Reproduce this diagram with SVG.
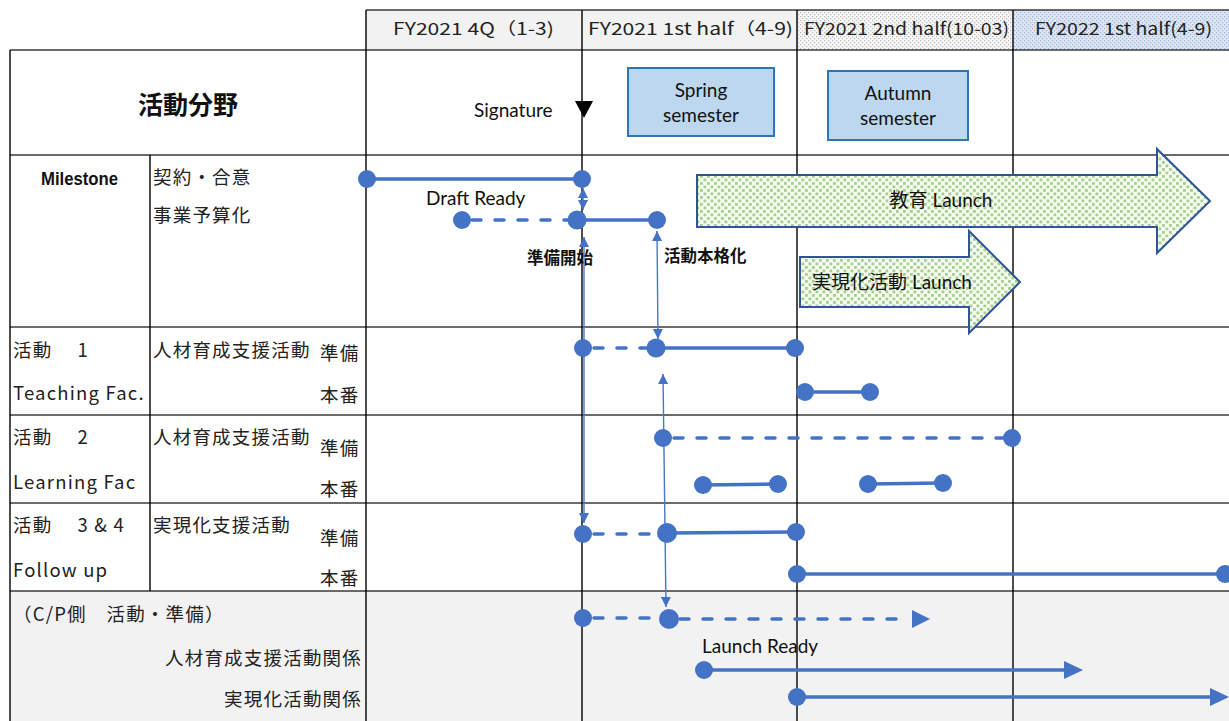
<svg xmlns="http://www.w3.org/2000/svg" width="1229" height="721" viewBox="0 0 1229 721">
  <defs>
    <style>
      .grid { stroke: #000; stroke-width: 1.4; fill: none; }
      .hline { stroke: #3a3a3a; stroke-width: 1.6; }
      .jp { font-family: "Noto Sans CJK JP", "Noto Sans", sans-serif; font-size: 18.5px; fill: #222; letter-spacing: 1.2px; }
      .lat { font-family: Lato, "Noto Sans CJK JP", "Liberation Sans", sans-serif; font-size: 19px; fill: #111; }
      .hdr { font-family: "Noto Sans CJK JP", "Liberation Sans Narrow", sans-serif; font-size: 17px; fill: #222; }
      .bold { font-family: "Noto Sans CJK JP", sans-serif; font-weight: bold; font-size: 16.5px; fill: #111; }
      .bar { stroke: #4472c4; stroke-width: 3.5; fill: none; }
      .dash { stroke: #4472c4; stroke-width: 3.5; fill: none; stroke-dasharray: 9 14; stroke-linecap: round; }
      .dot { fill: #4472c4; }
      .thin { stroke: #4a78c8; stroke-width: 1.4; fill: none; marker-start: url(#tip); marker-end: url(#tip); }
      .big { stroke: #2f5597; stroke-width: 2; fill: url(#greenDots); }
      .sem { fill: #bdd7ee; stroke: #2e75b6; stroke-width: 2; }
    </style>
    <pattern id="greenDots" width="7" height="7" patternUnits="userSpaceOnUse">
      <rect width="7" height="7" fill="#f6fbf2"/>
      <rect x="0" y="0" width="2.8" height="2.8" fill="#a6d08c"/>
      <rect x="3.5" y="3.5" width="2.8" height="2.8" fill="#a6d08c"/>
    </pattern>
    <pattern id="grayDots" width="4" height="4" patternUnits="userSpaceOnUse">
      <rect width="4" height="4" fill="#f7f7f7"/>
      <rect x="0" y="0" width="1.2" height="1.2" fill="#b8b8b8"/>
      <rect x="2" y="2" width="1.2" height="1.2" fill="#b8b8b8"/>
    </pattern>
    <pattern id="blueDots" width="4" height="4" patternUnits="userSpaceOnUse">
      <rect width="4" height="4" fill="#dde6f4"/>
      <rect x="0" y="0" width="1.2" height="1.2" fill="#9fb2d6"/>
      <rect x="2" y="2" width="1.2" height="1.2" fill="#9fb2d6"/>
    </pattern>
    <marker id="tip" viewBox="0 0 10 10" refX="10" refY="5" markerWidth="10" markerHeight="10" markerUnits="userSpaceOnUse" orient="auto-start-reverse">
      <path d="M0,0 L10,5 L0,10 Z" fill="#4472c4"/>
    </marker>
  </defs>

  <rect width="1229" height="721" fill="#fff"/>

  <!-- backgrounds -->
  <g id="backgrounds">
    <rect x="366" y="10" width="216" height="40" fill="#f2f2f2"/>
    <rect x="582" y="10" width="215" height="40" fill="#f2f2f2"/>
    <rect x="797" y="10" width="216" height="40" fill="url(#grayDots)"/>
    <rect x="1013" y="10" width="216" height="40" fill="url(#blueDots)"/>
    <rect x="10" y="591" width="1219" height="130" fill="#f2f2f2"/>
  </g>

  <!-- table grid -->
  <g id="grid">
    <line class="hline" x1="366" y1="10" x2="1229" y2="10"/>
    <line class="hline" x1="10" y1="50" x2="1229" y2="50"/>
    <line class="hline" x1="10" y1="155" x2="1229" y2="155"/>
    <line class="hline" x1="10" y1="327" x2="1229" y2="327"/>
    <line class="hline" x1="10" y1="415" x2="1229" y2="415"/>
    <line class="hline" x1="10" y1="503" x2="1229" y2="503"/>
    <line class="hline" x1="10" y1="591" x2="1229" y2="591" stroke-width="2"/>
    <line class="grid" x1="10" y1="50" x2="10" y2="721"/>
    <line class="grid" x1="150" y1="155" x2="150" y2="591"/>
    <line class="grid" x1="366" y1="10" x2="366" y2="721"/>
    <line class="grid" x1="582" y1="10" x2="582" y2="721"/>
    <line class="grid" x1="797" y1="10" x2="797" y2="721"/>
    <line class="grid" x1="1013" y1="10" x2="1013" y2="721"/>
  </g>

  <!-- period headers -->
  <g id="headers">
    <text class="hdr" x="393" y="35" textLength="161" lengthAdjust="spacingAndGlyphs">FY2021 4Q（1-3)</text>
    <text class="hdr" x="588" y="35" textLength="205" lengthAdjust="spacingAndGlyphs">FY2021 1st half（4-9)</text>
    <text class="hdr" x="804" y="35" textLength="205" lengthAdjust="spacingAndGlyphs" fill="#333">FY2021 2nd half(10-03)</text>
    <text class="hdr" x="1035" y="35" textLength="177" lengthAdjust="spacingAndGlyphs" fill="#333">FY2022 1st half(4-9)</text>
  </g>

  <!-- row labels -->
  <g id="row-labels">
    <text x="188" y="114" text-anchor="middle" font-family="'Noto Sans CJK JP', sans-serif" font-weight="bold" font-size="25" fill="#111">活動分野</text>
    <text x="41" y="185" font-family="'Liberation Sans Narrow', 'Liberation Sans', sans-serif" font-weight="bold" font-size="18" fill="#111" textLength="77" lengthAdjust="spacingAndGlyphs">Milestone</text>
    <text class="jp" x="153" y="184">契約・合意</text>
    <text class="jp" x="153" y="222">事業予算化</text>

    <text class="jp" x="13" y="357">活動　 1</text>
    <text class="jp" x="13" y="400" letter-spacing="0.6">Teaching Fac.</text>
    <text class="jp" x="153" y="357">人材育成支援活動</text>
    <text class="jp" x="320" y="360">準備</text>
    <text class="jp" x="320" y="402">本番</text>

    <text class="jp" x="13" y="444">活動　 2</text>
    <text class="jp" x="13" y="489" letter-spacing="0.6">Learning Fac</text>
    <text class="jp" x="153" y="444">人材育成支援活動</text>
    <text class="jp" x="320" y="455">準備</text>
    <text class="jp" x="320" y="496">本番</text>

    <text class="jp" x="13" y="532">活動　 3 &amp; 4</text>
    <text class="jp" x="13" y="577" letter-spacing="0.6">Follow up</text>
    <text class="jp" x="153" y="532">実現化支援活動</text>
    <text class="jp" x="320" y="545">準備</text>
    <text class="jp" x="320" y="585">本番</text>

    <text class="jp" x="13" y="621">（C/P側　活動・準備）</text>
    <text class="jp" x="362" y="665" text-anchor="end">人材育成支援活動関係</text>
    <text class="jp" x="362" y="706" text-anchor="end">実現化活動関係</text>
  </g>

  <!-- signature and semesters -->
  <g id="signature">
    <text class="lat" x="474" y="117">Signature</text>
    <path d="M575,101 L593,101 L584,118 Z" fill="#000"/>
  </g>
  <g id="spring-semester">
    <rect class="sem" x="628" y="68" width="146" height="68"/>
    <text class="lat" x="701" y="97" text-anchor="middle">Spring</text>
    <text class="lat" x="701" y="122" text-anchor="middle">semester</text>
  </g>
  <g id="autumn-semester">
    <rect class="sem" x="828" y="71" width="140" height="69"/>
    <text class="lat" x="898" y="100" text-anchor="middle">Autumn</text>
    <text class="lat" x="898" y="125" text-anchor="middle">semester</text>
  </g>

  <!-- launch arrows -->
  <g id="education-launch">
    <path class="big" d="M697,175 L1157,175 L1157,149 L1210,201 L1157,253 L1157,227 L697,227 Z"/>
    <text class="lat" x="941" y="207" text-anchor="middle" font-size="19.5" fill="#222">教育 Launch</text>
  </g>
  <g id="realization-launch">
    <path class="big" d="M800,257 L969,257 L969,231 L1020,282 L969,333 L969,307 L800,307 Z"/>
    <text class="lat" x="892" y="289" text-anchor="middle" font-size="19.5" fill="#222">実現化活動 Launch</text>
  </g>

  <!-- milestone labels -->
  <g id="milestone-labels">
    <text class="lat" x="426" y="205">Draft Ready</text>
    <text class="bold" x="527" y="264">準備開始</text>
    <text class="bold" x="664" y="262">活動本格化</text>
    <text class="lat" x="702" y="653">Launch Ready</text>
  </g>

  <!-- schedule bars and links -->
  <g id="connectors">
    <!-- milestone -->
    <line class="bar" x1="367" y1="179" x2="582" y2="179" stroke-width="3"/>
    <line class="dash" x1="472" y1="220" x2="568" y2="220"/>
    <line class="bar" x1="577" y1="220" x2="657" y2="220"/>
    <!-- activity 1 -->
    <line class="dash" x1="594" y1="348" x2="650" y2="348"/>
    <line class="bar" x1="656" y1="348" x2="795" y2="348"/>
    <line class="bar" x1="805" y1="392" x2="870" y2="392"/>
    <!-- activity 2 -->
    <line class="dash" x1="674" y1="438" x2="1004" y2="438"/>
    <line class="bar" x1="703" y1="485" x2="778" y2="484"/>
    <line class="bar" x1="868" y1="484" x2="943" y2="483"/>
    <!-- activity 3 & 4 -->
    <line class="dash" x1="594" y1="534" x2="660" y2="534"/>
    <line class="bar" x1="667" y1="533" x2="796" y2="532"/>
    <line class="bar" x1="797" y1="574" x2="1229" y2="574"/>
    <!-- C/P side -->
    <line class="dash" x1="594" y1="618" x2="660" y2="618"/>
    <line class="dash" x1="680" y1="619" x2="905" y2="619"/>
    <path d="M912,610 L930,619 L912,628 Z" fill="#4472c4"/>
    <line class="bar" x1="704" y1="670" x2="1068" y2="670" stroke-width="3"/>
    <path d="M1064,661 L1083,670 L1064,679 Z" fill="#4472c4"/>
    <line class="bar" x1="797" y1="697" x2="1214" y2="697" stroke-width="3"/>
    <path d="M1210,688 L1229,697 L1210,706 Z" fill="#4472c4"/>

    <!-- vertical links -->
    <line class="thin" x1="583" y1="188" x2="583" y2="210"/>
    <line class="thin" x1="584" y1="237" x2="584" y2="523"/>
    <line class="thin" x1="657" y1="231" x2="658" y2="339"/>
    <line class="thin" x1="663" y1="374" x2="666" y2="607"/>
  </g>

  <!-- milestone dots -->
  <g id="dots">
    <circle class="dot" cx="367" cy="179" r="9"/>
    <circle class="dot" cx="582" cy="179" r="9"/>
    <circle class="dot" cx="462" cy="220" r="9"/>
    <circle class="dot" cx="577" cy="220" r="9.5"/>
    <circle class="dot" cx="657" cy="220" r="9"/>

    <circle class="dot" cx="583" cy="348" r="9"/>
    <circle class="dot" cx="656" cy="348" r="9.5"/>
    <circle class="dot" cx="795" cy="348" r="9"/>
    <circle class="dot" cx="805" cy="392" r="9"/>
    <circle class="dot" cx="870" cy="392" r="9"/>

    <circle class="dot" cx="663" cy="438" r="9"/>
    <circle class="dot" cx="1012" cy="438" r="9"/>
    <circle class="dot" cx="703" cy="485" r="9"/>
    <circle class="dot" cx="778" cy="484" r="9"/>
    <circle class="dot" cx="868" cy="484" r="9"/>
    <circle class="dot" cx="943" cy="483" r="9"/>

    <circle class="dot" cx="583" cy="534" r="9"/>
    <circle class="dot" cx="667" cy="533" r="10"/>
    <circle class="dot" cx="796" cy="532" r="9"/>
    <circle class="dot" cx="797" cy="574" r="9"/>
    <circle class="dot" cx="1225" cy="574" r="9"/>

    <circle class="dot" cx="583" cy="618" r="9"/>
    <circle class="dot" cx="669" cy="619" r="10"/>
    <circle class="dot" cx="704" cy="670" r="9"/>
    <circle class="dot" cx="797" cy="697" r="9"/>
  </g>
</svg>
